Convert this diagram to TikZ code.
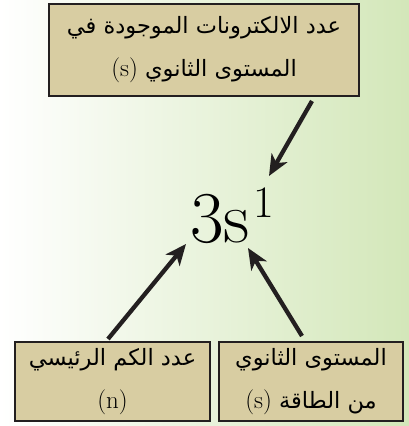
\documentclass[tikz,border=0pt]{standalone}
\usepackage{fontspec}
\usetikzlibrary{arrows.meta}
\newfontfamily\arabicfont[Script=Arabic]{DejaVu Sans}
\TeXXeTstate=1
\definecolor{boxtan}{HTML}{D8CDA2}
\definecolor{bggreen}{HTML}{D3E7B9}
\definecolor{ink}{HTML}{231F20}
\newcommand{\latinpar}[1]{\beginL{\rmfamily\fontsize{25}{43}\selectfont(#1)}\endL}

\begin{document}
\begin{tikzpicture}[x=1pt,y=-1pt,
	box/.style={draw=ink,line width=2pt,fill=boxtan,inner sep=0pt,align=center,font=\arabicfont\fontsize{22.5}{43}\selectfont},
	arr/.style={ink,line width=4.3pt,-{Stealth[length=21pt,width=18pt,inset=6pt]}}]
		\useasboundingbox (0,0) rectangle (409,426);
		\shade[left color=white,right color=bggreen] (0,0) rectangle (409,426);
		\node[box,minimum width=310pt,minimum height=92pt] (top) at (204,50) {\beginR عدد الالكترونات الموجودة في\endR\\\beginR المستوى الثانوي \latinpar{s}\endR};
		\node[box,minimum width=195pt,minimum height=79pt] (lb) at (112.5,381.5) {\beginR عدد الكم الرئيسي\endR\\\latinpar{n}};
		\node[box,minimum width=184pt,minimum height=79pt] (rb) at (311,381.5) {\beginR المستوى الثانوي\endR\\\beginR من الطاقة \latinpar{s}\endR};
		\node[anchor=base west,inner sep=0pt,font=\fontsize{73}{73}\selectfont] (f) at (190,242) {3s\kern4pt\raisebox{25pt}{\fontsize{45}{45}\selectfont 1}};
		\coordinate (ta) at (269,176);
		\coordinate (tb) at (186,244);
		\coordinate (tc) at (248,248);
		\draw[arr] ([xshift=108pt,yshift=-4pt]top.south) -- (ta);
		\draw[arr] ([xshift=-4.5pt,yshift=2pt]lb.north) -- (tb);
		\draw[arr] ([xshift=-9pt,yshift=5pt]rb.north) -- (tc);
\end{tikzpicture}
\end{document}
